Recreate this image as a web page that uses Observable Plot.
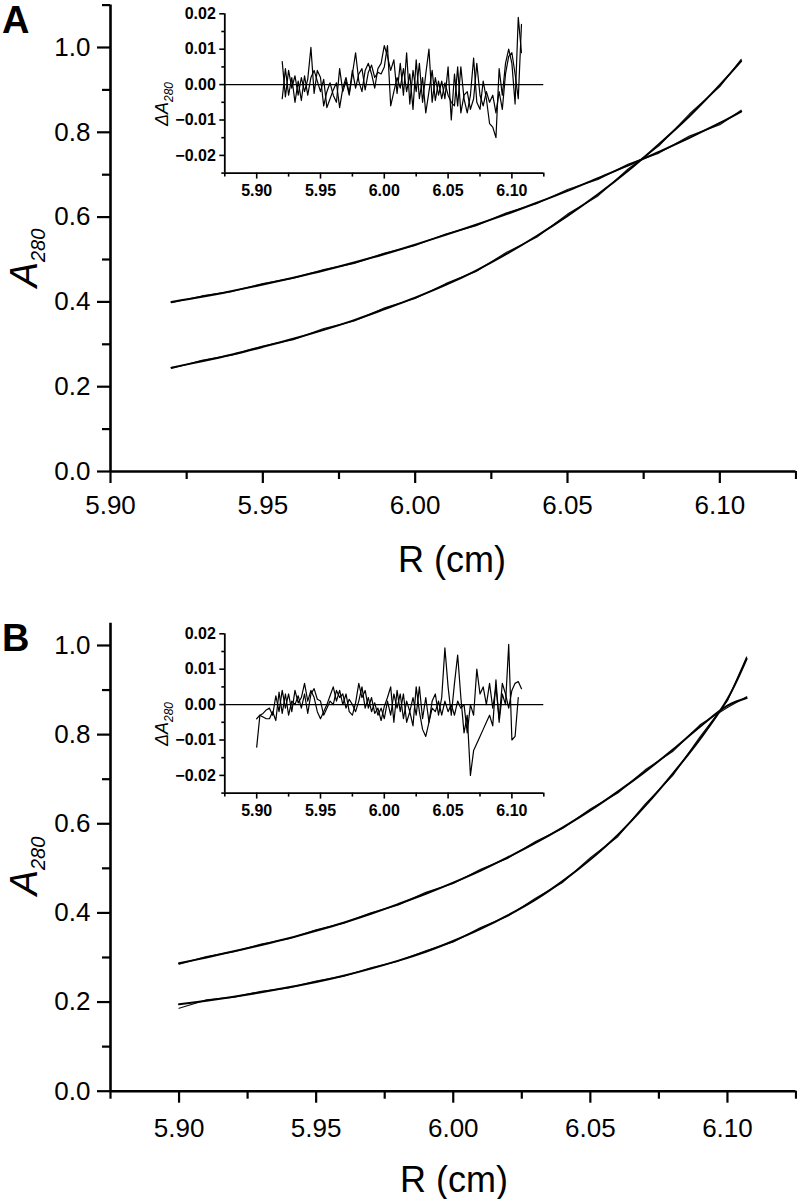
<!DOCTYPE html>
<html><head><meta charset="utf-8">
<script src="https://cdn.jsdelivr.net/npm/d3@7"></script>
<script src="https://cdn.jsdelivr.net/npm/@observablehq/plot@0.6"></script>
<style>
body{margin:0;background:#fff;}
#wrap{position:relative;width:797px;height:1199px;overflow:hidden;background:#fff;}
</style></head><body><div id="wrap"></div>
<script>
// ---------- Panel A main curves ----------
const rA = [5.92,5.93,5.94,5.95,5.96,5.97,5.98,5.99,6.00,6.01,6.02,6.03,6.04,6.05,6.06,6.07,6.08,6.09,6.10,6.107];
const fitA1 = [0.400,0.412,0.426,0.441,0.457,0.474,0.493,0.513,0.535,0.558,0.582,0.607,0.634,0.662,0.692,0.722,0.754,0.787,0.822,0.849];
const datA1 = [0.398,0.414,0.425,0.443,0.456,0.476,0.491,0.515,0.533,0.560,0.580,0.610,0.632,0.665,0.689,0.725,0.751,0.791,0.818,0.852];
const fitA2 = [0.245,0.260,0.276,0.294,0.313,0.334,0.357,0.383,0.410,0.440,0.474,0.513,0.556,0.603,0.654,0.710,0.772,0.838,0.912,0.968];
const datA2 = [0.243,0.262,0.275,0.296,0.311,0.337,0.355,0.386,0.408,0.443,0.472,0.517,0.553,0.607,0.650,0.714,0.768,0.843,0.908,0.972];

// ---------- Panel B main curves ----------
const rB = [5.90,5.91,5.92,5.93,5.94,5.95,5.96,5.97,5.98,5.99,6.00,6.01,6.02,6.03,6.04,6.05,6.06,6.07,6.08,6.09,6.10,6.107];
const fitB1 = [0.287,0.300,0.314,0.328,0.343,0.360,0.378,0.398,0.420,0.443,0.468,0.495,0.525,0.557,0.592,0.630,0.672,0.717,0.766,0.818,0.865,0.882];
const datB1 = [0.285,0.302,0.313,0.330,0.342,0.362,0.377,0.400,0.418,0.446,0.466,0.498,0.523,0.560,0.590,0.633,0.669,0.721,0.762,0.822,0.861,0.885];
const fitB2 = [0.195,0.203,0.212,0.222,0.233,0.245,0.259,0.275,0.293,0.313,0.337,0.364,0.395,0.430,0.472,0.520,0.575,0.640,0.712,0.790,0.880,0.970];
const datB2 = [0.186,0.205,0.211,0.224,0.232,0.247,0.258,0.277,0.292,0.315,0.335,0.367,0.393,0.433,0.469,0.524,0.571,0.644,0.708,0.795,0.876,0.974];

// ---------- Inset A residuals ----------
const resRA = [5.9200,5.9225,5.9250,5.9275,5.9300,5.9325,5.9350,5.9375,5.9400,5.9425,5.9450,5.9475,5.9500,5.9525,5.9550,5.9575,5.9600,5.9625,5.9650,5.9675,5.9700,5.9725,5.9750,5.9775,5.9800,5.9825,5.9850,5.9875,5.9900,5.9925,5.9950,5.9975,6.0000,6.0025,6.0050,6.0075,6.0100,6.0125,6.0150,6.0175,6.0200,6.0225,6.0250,6.0275,6.0300,6.0325,6.0350,6.0375,6.0400,6.0425,6.0450,6.0475,6.0500,6.0525,6.0550,6.0575,6.0600,6.0625,6.0650,6.0675,6.0700,6.0725,6.0750,6.0775,6.0800,6.0825,6.0850,6.0875,6.0900,6.0925,6.0950,6.0975,6.1000,6.1025,6.1050,6.1075];
const resA1 = [0.0065,-0.0035,0.0040,-0.0010,0.0025,-0.0030,0.0020,-0.0020,0.0015,0.0105,-0.0025,0.0040,0.0020,-0.0060,-0.0020,0.0005,-0.0030,-0.0050,0.0045,-0.0020,0.0010,-0.0030,0.0030,0.0090,0.0010,-0.0020,0.0040,0.0060,0.0030,-0.0010,0.0045,0.0060,0.0110,0.0080,0.0040,0.0070,-0.0025,0.0060,-0.0030,0.0090,-0.0055,0.0040,-0.0020,0.0060,-0.0050,0.0030,0.0100,-0.0050,0.0020,-0.0030,0.0010,-0.0040,0.0050,-0.0100,0.0030,-0.0060,0.0050,-0.0040,-0.0080,-0.0030,0.0075,-0.0050,-0.0070,0.0010,-0.0040,-0.0110,-0.0120,-0.0150,0.0045,-0.0030,0.0060,0.0100,0.0060,-0.0055,0.0190,0.0090];
const resA2 = [-0.0040,0.0045,-0.0030,0.0020,-0.0050,0.0010,-0.0045,0.0025,-0.0030,0.0020,0.0040,0.0010,-0.0020,0.0015,-0.0065,-0.0040,-0.0015,0.0005,-0.0065,-0.0010,0.0020,-0.0025,0.0040,-0.0010,0.0030,0.0045,-0.0015,0.0035,0.0055,0.0020,0.0035,0.0030,0.0050,0.0110,-0.0060,-0.0020,0.0020,-0.0010,0.0045,-0.0020,0.0030,-0.0070,0.0070,-0.0040,0.0020,-0.0080,-0.0020,0.0040,-0.0045,0.0010,-0.0040,0.0005,-0.0030,-0.0050,-0.0060,0.0050,-0.0080,-0.0030,-0.0020,-0.0070,-0.0040,0.0060,-0.0030,-0.0060,-0.0020,-0.0050,-0.0030,-0.0080,-0.0020,-0.0070,0.0030,0.0080,0.0090,0.0030,-0.0040,0.0170];

// ---------- Inset B residuals ----------
const resRB = [5.9000,5.9025,5.9050,5.9075,5.9100,5.9125,5.9150,5.9175,5.9200,5.9225,5.9250,5.9275,5.9300,5.9325,5.9350,5.9375,5.9400,5.9425,5.9450,5.9475,5.9500,5.9525,5.9550,5.9575,5.9600,5.9625,5.9650,5.9675,5.9700,5.9725,5.9750,5.9775,5.9800,5.9825,5.9850,5.9875,5.9900,5.9925,5.9950,5.9975,6.0000,6.0025,6.0050,6.0075,6.0100,6.0125,6.0150,6.0175,6.0200,6.0225,6.0250,6.0275,6.0300,6.0325,6.0350,6.0375,6.0400,6.0425,6.0450,6.0475,6.0500,6.0525,6.0550,6.0575,6.0600,6.0625,6.0650,6.0675,6.0700,6.0725,6.0750,6.0775,6.0800,6.0825,6.0850,6.0875,6.0900,6.0925,6.0950,6.0975,6.1000,6.1025,6.1050,6.1075];
const resB1 = [-0.0120,-0.0030,-0.0025,-0.0015,-0.0010,-0.0030,0.0025,-0.0020,0.0040,-0.0010,0.0030,-0.0020,0.0040,0.0005,0.0020,0.0060,0.0010,0.0040,0.0020,-0.0020,-0.0040,-0.0020,0.0000,0.0025,0.0050,0.0010,0.0040,0.0000,0.0030,-0.0020,-0.0030,0.0005,0.0060,0.0020,0.0040,-0.0010,0.0020,-0.0025,-0.0010,-0.0045,-0.0005,0.0020,0.0050,-0.0050,0.0040,-0.0020,0.0030,-0.0050,-0.0020,-0.0060,0.0050,-0.0020,-0.0070,-0.0090,-0.0050,0.0010,0.0030,-0.0030,0.0020,0.0160,0.0050,-0.0030,0.0060,0.0140,0.0020,-0.0080,-0.0030,-0.0200,-0.0130,-0.0110,-0.0090,-0.0070,-0.0050,-0.0030,-0.0060,0.0070,-0.0050,0.0030,0.0000,0.0170,-0.0100,-0.0090,0.0020,null];
const resB2 = [-0.0040,-0.0030,-0.0035,-0.0040,-0.0040,-0.0020,-0.0045,0.0035,-0.0025,0.0030,-0.0030,0.0010,0.0000,0.0025,-0.0010,0.0030,-0.0025,0.0030,0.0045,0.0015,0.0010,-0.0030,-0.0010,0.0010,0.0000,0.0040,0.0020,0.0030,-0.0010,0.0015,0.0000,-0.0020,0.0010,0.0050,-0.0010,0.0020,-0.0020,0.0005,-0.0030,-0.0010,-0.0040,0.0010,-0.0030,0.0030,-0.0010,0.0030,-0.0040,0.0010,-0.0020,0.0020,-0.0030,0.0050,-0.0040,0.0020,-0.0050,-0.0010,-0.0020,0.0010,-0.0030,0.0010,-0.0020,0.0000,-0.0030,0.0010,-0.0010,0.0000,-0.0080,0.0000,-0.0030,0.0100,0.0030,0.0050,0.0000,0.0060,-0.0010,0.0050,-0.0040,0.0060,0.0030,-0.0010,0.0040,0.0060,0.0065,0.0045];

// ---------- ticks ----------
const mainYMajor = [0,0.2,0.4,0.6,0.8,1.0];
const mainXMajor = [5.90,5.95,6.00,6.05,6.10];
const insYMajor = [-0.02,-0.01,0,0.01,0.02];
const insYMinor = [-0.025,-0.015,-0.005,0.005,0.015];
const insXMinor = [5.875,5.925,5.975,6.025,6.075,6.125];

const FONT = '"Liberation Sans", Arial, Helvetica, sans-serif';
const wrap = document.getElementById("wrap");
const toRows = (xs, ys) => xs.map((r, i) => ({r, a: ys[i]}));

function place(svg, left, top) {
  svg.style.position = "absolute";
  svg.style.left = left + "px";
  svg.style.top = top + "px";
  wrap.appendChild(svg);
  return svg;
}

function mainPanel(cfg) {
  const {xDomain, yDomain, yMinor, xMinor, curves, height, marginTop, marginBottom, tickPadX} = cfg;
  const marks = [
    Plot.ruleY([0], {x1: xDomain[0], x2: xDomain[1], strokeWidth: 2.6}),
    Plot.ruleX([xDomain[0]], {y1: yDomain[0], y2: yDomain[1], strokeWidth: 2.6}),
    Plot.axisX(mainXMajor, {tickSize: 12, tickPadding: tickPadX, tickFormat: d3.format(".2f"), fontSize: 26, strokeWidth: 2.2, label: null}),
    Plot.axisX(xMinor, {tickSize: 8, tickFormat: () => "", strokeWidth: 2.2, label: null}),
    Plot.axisY(mainYMajor, {tickSize: 13, tickPadding: 7, tickFormat: d3.format(".1f"), fontSize: 26, strokeWidth: 2.2, label: null}),
    Plot.axisY(yMinor, {tickSize: 8, tickFormat: () => "", strokeWidth: 2.2, label: null})
  ];
  for (const c of curves) {
    marks.push(Plot.line(c.data, {x: "r", y: "a", stroke: "#111", strokeWidth: 1.2}));
    marks.push(Plot.line(c.fit, {x: "r", y: "a", stroke: "#000", strokeWidth: 2, curve: "catmull-rom"}));
  }
  return Plot.plot({
    width: 797, height, marginLeft: 110, marginRight: 1.5, marginTop, marginBottom,
    x: {domain: xDomain, label: null},
    y: {domain: yDomain, label: null},
    style: {fontFamily: FONT, color: "#000", background: "transparent", overflow: "visible"},
    marks
  });
}

function insetPanel(series) {
  const marks = [
    Plot.ruleY([0], {x1: 5.875, x2: 6.125, strokeWidth: 1.3}),
    Plot.ruleY([-0.025], {x1: 5.875, x2: 6.125, strokeWidth: 1.8}),
    Plot.ruleX([5.875], {y1: -0.025, y2: 0.02, strokeWidth: 1.8}),
    Plot.axisX(mainXMajor, {tickSize: 6, tickPadding: 6, tickFormat: d3.format(".2f"), fontSize: 16, fontWeight: "bold", strokeWidth: 1.6, label: null}),
    Plot.axisX(insXMinor, {tickSize: 4, tickFormat: () => "", strokeWidth: 1.6, label: null}),
    Plot.axisY(insYMajor, {tickSize: 5, tickPadding: 4, tickFormat: d3.format(".2f"), fontSize: 16, fontWeight: "bold", strokeWidth: 1.6, label: null}),
    Plot.axisY(insYMinor, {tickSize: 3, tickFormat: () => "", strokeWidth: 1.6, label: null})
  ];
  for (const s of series) marks.push(Plot.line(s, {x: "r", y: "a", stroke: "#000", strokeWidth: 1.2}));
  return Plot.plot({
    width: 398.3, height: 204.6, marginLeft: 74.3, marginRight: 5, marginTop: 13.3, marginBottom: 32,
    x: {domain: [5.875, 6.125], label: null},
    y: {domain: [-0.025, 0.02], label: null},
    style: {fontFamily: FONT, color: "#000", background: "transparent", overflow: "visible"},
    marks
  });
}

function addYLabel(svg, x, y, size, subSize, prefix) {
  const t = d3.select(svg).append("text")
    .attr("transform", `translate(${x},${y}) rotate(-90)`)
    .attr("text-anchor", "middle")
    .attr("font-family", FONT).attr("font-style", "italic")
    .attr("font-size", size).attr("fill", "#000");
  t.append("tspan").text(prefix + "A");
  t.append("tspan").attr("font-size", subSize).attr("dy", subSize * 0.4).text("280");
}
function addText(svg, x, y, str, size, weight) {
  d3.select(svg).append("text").attr("x", x).attr("y", y)
    .attr("text-anchor", weight === "bold" ? "start" : "middle")
    .attr("font-family", FONT).attr("font-size", size).attr("font-weight", weight || "normal")
    .attr("fill", "#000").text(str);
}

// Panel A
const svgA = mainPanel({
  xDomain: [5.90, 6.125], yDomain: [0, 1.1],
  xMinor: [5.925,5.975,6.025,6.075,6.125], yMinor: [0.1,0.3,0.5,0.7,0.9,1.1],
  curves: [{fit: toRows(rA, fitA1), data: toRows(rA, datA1)}, {fit: toRows(rA, fitA2), data: toRows(rA, datA2)}],
  height: 600, marginTop: 4.6, marginBottom: 129, tickPadX: 12
});
place(svgA, 0, 0);
addYLabel(svgA, 37, 258, 38, 20, "");
addText(svgA, 452, 572, "R (cm)", 36);
addText(svgA, 2, 33, "A", 38, "bold");

// Panel B
const svgB = mainPanel({
  xDomain: [5.875, 6.125], yDomain: [0, 1.05],
  xMinor: [5.875,5.925,5.975,6.025,6.075,6.125], yMinor: [0.1,0.3,0.5,0.7,0.9],
  curves: [{fit: toRows(rB, fitB1), data: toRows(rB, datB1)}, {fit: toRows(rB, fitB2), data: toRows(rB, datB2)}],
  height: 599, marginTop: 22.7, marginBottom: 108.3, tickPadX: 15
});
place(svgB, 0, 600);
addYLabel(svgB, 37, 266, 38, 20, "");
addText(svgB, 454, 592, "R (cm)", 36);
addText(svgB, 2, 51, "B", 38, "bold");

// Insets
const insA = insetPanel([toRows(resRA, resA1), toRows(resRA, resA2)]);
place(insA, 150, 0);
addYLabel(insA, 18, 104, 18, 12, "\u0394");
const insB = insetPanel([toRows(resRB, resB1), toRows(resRB, resB2)]);
place(insB, 150, 620);
addYLabel(insB, 18, 104, 18, 12, "\u0394");
</script>
</body></html>
